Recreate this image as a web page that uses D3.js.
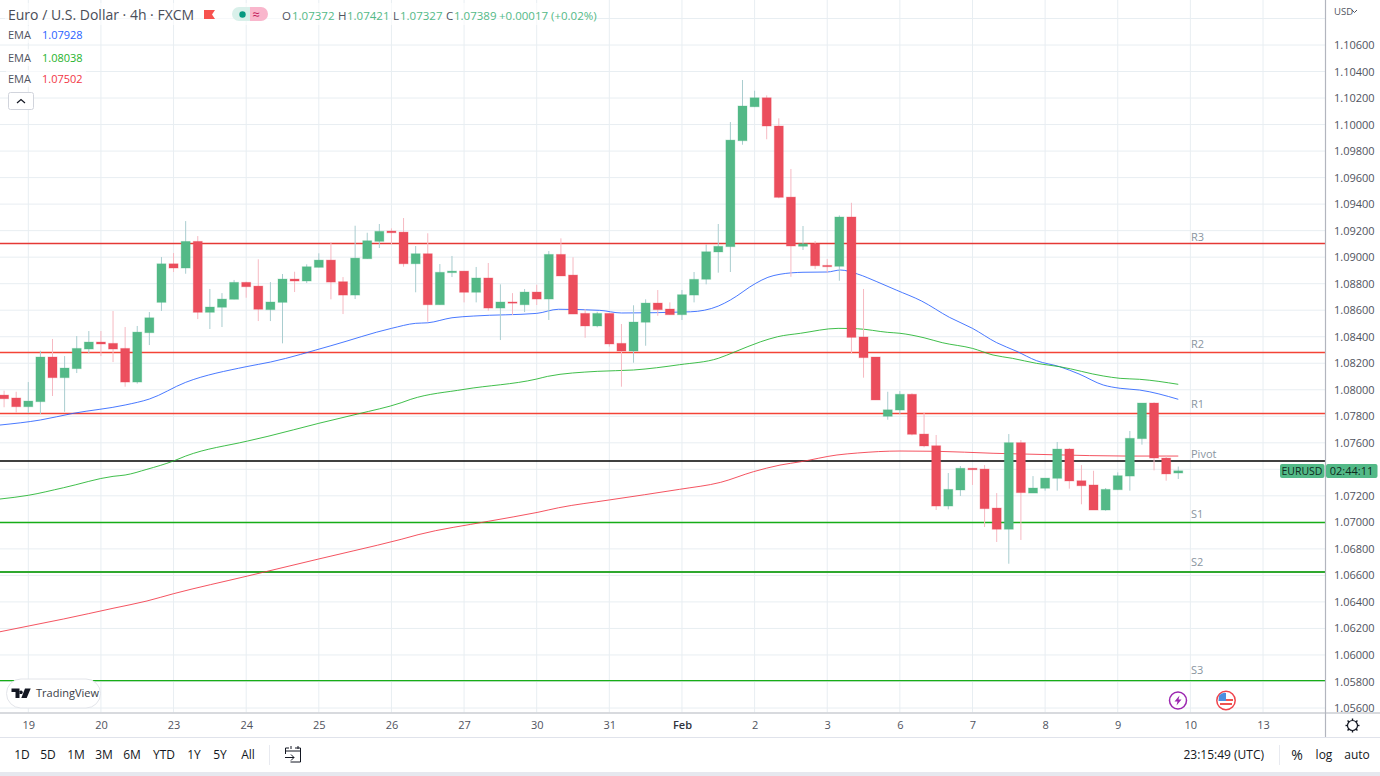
<!DOCTYPE html>
<html><head><meta charset="utf-8">
<script src="https://cdn.jsdelivr.net/npm/d3@7"></script>
<style>
html,body{margin:0;padding:0;background:#fff;overflow:hidden}
svg{display:block}
text{font-family:"Open Sans","Noto Sans",sans-serif}
</style></head><body>
<svg id="c" width="1380" height="776"></svg>
<script>
const firstBar = -2;
const opens = [1.07960,1.07938,1.07872,1.07910,1.08247,1.08091,1.08159,1.08307,1.08360,1.08350,1.08312,1.08058,1.08430,1.08659,1.08950,1.08918,1.09119,1.08584,1.08622,1.08682,1.08810,1.08782,1.08604,1.08659,1.08835,1.08820,1.08923,1.08978,1.08815,1.08714,1.08988,1.09119,1.09197,1.09189,1.08950,1.09026,1.08641,1.08883,1.08895,1.08735,1.08843,1.08616,1.08662,1.08641,1.08737,1.08684,1.09021,1.08865,1.08576,1.08481,1.08576,1.08350,1.08292,1.08509,1.08654,1.08609,1.08566,1.08714,1.08833,1.09039,1.09079,1.09878,1.10134,1.10202,1.09989,1.09453,1.09082,1.09101,1.08938,1.08931,1.09303,1.08398,1.08247,1.07800,1.07847,1.07966,1.07666,1.07578,1.07123,1.07244,1.07408,1.07402,1.07108,1.06948,1.07601,1.07221,1.07257,1.07332,1.07553,1.07314,1.07282,1.07093,1.07246,1.07349,1.07631,1.07900,1.07485,1.07372];
const highs = [1.07993,1.07985,1.08058,1.08294,1.08383,1.08254,1.08405,1.08443,1.08443,1.08594,1.08473,1.08481,1.08586,1.09001,1.09031,1.09272,1.09159,1.08760,1.08729,1.08828,1.08815,1.08984,1.08812,1.08873,1.08890,1.08946,1.09029,1.09112,1.08850,1.09237,1.09184,1.09250,1.09217,1.09295,1.09084,1.09180,1.08948,1.09009,1.08895,1.08926,1.08956,1.08795,1.08729,1.08760,1.08792,1.09046,1.09142,1.08999,1.08609,1.08588,1.08576,1.08496,1.08637,1.08682,1.08752,1.08659,1.08752,1.08888,1.09097,1.09250,1.10019,1.10336,1.10255,1.10220,1.10047,1.09665,1.09235,1.09122,1.08986,1.09315,1.09410,1.08760,1.08247,1.07985,1.07990,1.07973,1.07827,1.07659,1.07372,1.07425,1.07408,1.07432,1.07221,1.07666,1.07621,1.07349,1.07334,1.07606,1.07561,1.07432,1.07389,1.07259,1.07377,1.07689,1.07900,1.07905,1.07503,1.07421];
const lows = [1.07868,1.07825,1.07825,1.07817,1.07953,1.07834,1.08126,1.08275,1.08254,1.08209,1.08023,1.08046,1.08337,1.08594,1.08888,1.08875,1.08533,1.08458,1.08473,1.08682,1.08694,1.08518,1.08518,1.08350,1.08737,1.08805,1.08923,1.08682,1.08571,1.08684,1.08988,1.09069,1.09097,1.08928,1.08735,1.08513,1.08641,1.08850,1.08659,1.08659,1.08596,1.08375,1.08564,1.08586,1.08639,1.08526,1.08858,1.08571,1.08392,1.08471,1.08325,1.08023,1.08204,1.08332,1.08558,1.08566,1.08526,1.08659,1.08795,1.08883,1.08888,1.09848,1.10134,1.09889,1.09444,1.08852,1.09054,1.08910,1.08883,1.08822,1.08275,1.08091,1.07923,1.07774,1.07817,1.07656,1.07566,1.07093,1.07098,1.07199,1.07282,1.06965,1.06852,1.06688,1.06867,1.07221,1.07239,1.07239,1.07254,1.07136,1.07093,1.07088,1.07246,1.07239,1.07586,1.07392,1.07314,1.07327];
const closes = [1.07932,1.07872,1.07915,1.08247,1.08091,1.08164,1.08312,1.08360,1.08345,1.08307,1.08058,1.08435,1.08543,1.08950,1.08918,1.09119,1.08584,1.08624,1.08684,1.08810,1.08777,1.08607,1.08662,1.08835,1.08820,1.08928,1.08978,1.08812,1.08714,1.08993,1.09124,1.09195,1.09184,1.08950,1.09026,1.08641,1.08886,1.08895,1.08735,1.08843,1.08616,1.08662,1.08654,1.08737,1.08684,1.09021,1.08858,1.08571,1.08481,1.08576,1.08345,1.08292,1.08511,1.08654,1.08604,1.08566,1.08717,1.08833,1.09041,1.09082,1.09883,1.10140,1.10202,1.09989,1.09451,1.09084,1.09101,1.08935,1.08928,1.09303,1.08395,1.08242,1.07923,1.07849,1.07966,1.07664,1.07576,1.07123,1.07249,1.07408,1.07397,1.07103,1.06948,1.07601,1.07224,1.07259,1.07334,1.07553,1.07312,1.07276,1.07093,1.07249,1.07352,1.07634,1.07900,1.07485,1.07365,1.07389];

const blueBars = [-2.34,1,3.7,8,10,13,18,20,25,30,32,33,35,36.8,42,43.8,47.2,49,54.7,57,58,60.1,61.1,62.1,64,66,67.1,68.5,70.1,71.7,73.8,76.1,78,80,81.6,83.3,85.2,86.8,88.8,90.2,91.8,95];
const blueVals = [1.07734,1.07772,1.07822,1.07885,1.07930,1.08056,1.08174,1.08209,1.08332,1.08463,1.08501,1.08505,1.08543,1.08556,1.08576,1.08607,1.08599,1.08579,1.08588,1.08631,1.08677,1.08803,1.08848,1.08871,1.08886,1.08888,1.08903,1.08873,1.08815,1.08752,1.08669,1.08546,1.08463,1.08355,1.08292,1.08219,1.08174,1.08119,1.08036,1.08011,1.07998,1.07928];
const greenBars = [-2.34,0,2.9,7,8,9.8,12,13,18.1,19.8,24,27.2,30.8,31.6,36,42,42.9,47,50,53.8,57,58.4,60.5,61.9,63.8,66.9,68.5,71,72,74,75.5,78,79.7,81.3,83.3,85.2,88.8,90.2,91.8,95];
const greenVals = [1.07176,1.07204,1.07261,1.07347,1.07357,1.07400,1.07463,1.07500,1.07613,1.07649,1.07747,1.07817,1.07902,1.07928,1.08003,1.08081,1.08101,1.08139,1.08149,1.08189,1.08237,1.08287,1.08362,1.08400,1.08426,1.08463,1.08460,1.08433,1.08426,1.08392,1.08355,1.08312,1.08262,1.08237,1.08199,1.08174,1.08104,1.08086,1.08079,1.08041];
const redBars = [-2.34,0,2.9,7,9.8,12,18.1,24,26.9,30.8,32.2,38,42.1,43.8,48,53.8,57.2,59.9,62.1,63.8,66.8,68.5,72,75,79.7,84.6,90.7,95];
const redVals = [1.06175,1.06218,1.06271,1.06352,1.06407,1.06462,1.06595,1.06724,1.06786,1.06872,1.06907,1.07008,1.07076,1.07110,1.07169,1.07249,1.07302,1.07382,1.07432,1.07457,1.07508,1.07523,1.07538,1.07536,1.07521,1.07510,1.07500,1.07500];

const levelNames = ["R3","R2","R1","Pivot","S1","S2","S3"];
const levelVals = [1.09103,1.08281,1.07821,1.07463,1.06999,1.06626,1.05807];
const levelCols = ["#e53935","#f44336","#f44336","#000000","#17ad17","#2fa82f","#17ad17"];
const levelWidths = [1.3,1.5,1.5,1.5,1.4,2,1.3];

const dayBars = [0,6,12,18,24,30,36,42,48,54,60,66,72,78,84,90,96,102];
const dayLabels = ["19","20","23","24","25","26","27","30","31","Feb","2","3","6","7","8","9","10","13"];
const priceTicks = [1.108,1.106,1.104,1.102,1.100,1.098,1.096,1.094,1.092,1.090,1.088,1.086,1.084,1.082,1.080,1.078,1.076,1.074,1.072,1.070,1.068,1.066,1.064,1.062,1.060,1.058,1.056];
const hiddenLabels = [1.108,1.074];
const rangeButtons = ["1D","5D","1M","3M","6M","YTD","1Y","5Y","All"];
const rangeCenters = [22,48,76,104,132,164,194,220,248];
const emaLegendVals = ["1.07928","1.08038","1.07502"];
const emaCols = ["#2962ff","#1fb32c","#f23645"];
const ohlcLabels = ["O","H","L","C"];
const ohlcVals = ["1.07372","1.07421","1.07327","1.07389"];

const UP="#53b987", DOWN="#eb4d5c", GRID="#e8eef2", TXT="#50535e", AXIS="#b2b5be";
const PW=1325, PH=712.5;
const x=d3.scaleLinear().domain([0,102]).range([28.3,1263]);
const y=d3.scaleLinear().domain([1.106,1.056]).range([45,708]);
const svg=d3.select("#c");
svg.append("rect").attr("width",1380).attr("height",776).attr("fill","#fff");
const defs=svg.append("defs");
defs.append("clipPath").attr("id","plot").append("rect").attr("width",PW).attr("height",PH);
const plot=svg.append("g").attr("clip-path","url(#plot)");

// grid
plot.selectAll("line.h").data(priceTicks).join("line").attr("class","h")
 .attr("x1",0).attr("x2",PW).attr("y1",d=>y(d)).attr("y2",d=>y(d)).attr("stroke",GRID).attr("stroke-width",1);
plot.selectAll("line.v").data(dayBars).join("line").attr("class","v")
 .attr("y1",0).attr("y2",PH).attr("x1",d=>x(d)).attr("x2",d=>x(d)).attr("stroke",GRID).attr("stroke-width",1);

// pivot levels
levelVals.forEach((v,i)=>{
 plot.append("line").attr("x1",0).attr("x2",PW).attr("y1",y(v)).attr("y2",y(v))
  .attr("stroke",levelCols[i]).attr("stroke-width",levelWidths[i]);
});

// EMAs
const ln=d3.line().x(d=>x(d[0])).y(d=>y(d[1])).curve(d3.curveMonotoneX);
[[blueBars,blueVals],[greenBars,greenVals],[redBars,redVals]].forEach(([b,v],i)=>{
 plot.append("path").attr("d",ln(b.map((k,j)=>[k,v[j]]))).attr("fill","none")
  .attr("stroke",emaCols[i]).attr("stroke-width",1).attr("stroke-opacity",.85);
});

// candles
const bars=opens.map((o,i)=>({i:i+firstBar,o,h:highs[i],l:lows[i],c:closes[i]}));
const g=plot.append("g");
g.selectAll("line").data(bars).join("line")
 .attr("x1",d=>x(d.i)).attr("x2",d=>x(d.i)).attr("y1",d=>y(d.h)).attr("y2",d=>y(d.l))
 .attr("stroke",d=>d.c>=d.o?"#a9cdcf":"#f6b9c2").attr("stroke-width",1);
g.selectAll("rect").data(bars).join("rect")
 .attr("x",d=>x(d.i)-4.5).attr("width",9)
 .attr("y",d=>y(Math.max(d.o,d.c))).attr("height",d=>Math.max(1.2,Math.abs(y(d.o)-y(d.c))))
 .attr("fill",d=>d.c>=d.o?UP:DOWN)
 .attr("stroke",d=>d.c>=d.o?UP:DOWN).attr("stroke-opacity",.3).attr("stroke-width",1);

// level labels
const levelLift=[2.5,4,5,3,4,6,7];
levelVals.forEach((v,i)=>{
 svg.append("text").attr("x",1191).attr("y",y(v)-levelLift[i]).text(levelNames[i])
  .attr("font-size",11).attr("fill","#8a95a0");
});

// axes
const yAxis=d3.axisRight(y).tickValues(priceTicks.filter(t=>!hiddenLabels.includes(t)))
 .tickFormat(d3.format(".5f")).tickSize(0).tickPadding(9);
const ya=svg.append("g").attr("transform",`translate(${PW},0)`).call(yAxis);
const xAxis=d3.axisBottom(x).tickValues(dayBars).tickFormat((d,i)=>dayLabels[i]).tickSize(0).tickPadding(9);
const xa=svg.append("g").attr("transform",`translate(0,${PH})`).call(xAxis);
[ya,xa].forEach(a=>{a.select(".domain").remove();
 a.selectAll("text").attr("font-size",11).attr("fill",TXT).attr("font-family",'"Open Sans",sans-serif');});
xa.selectAll("text").filter((d,i)=>dayLabels[i]==="Feb").attr("font-weight",600).attr("fill","#30333c");
svg.append("line").attr("x1",PW+.5).attr("x2",PW+.5).attr("y1",0).attr("y2",738).attr("stroke",AXIS).attr("stroke-width",1.2);
svg.append("line").attr("x1",0).attr("x2",1380).attr("y1",PH+.5).attr("y2",PH+.5).attr("stroke",AXIS).attr("stroke-width",1.2);

// bottom toolbar
svg.append("line").attr("x1",0).attr("x2",1380).attr("y1",737.5).attr("y2",737.5).attr("stroke","#e0e3eb");
svg.append("rect").attr("x",0).attr("y",772).attr("width",1380).attr("height",4).attr("fill","#e6e8ef");
const T=(s,xx,yy,o={})=>svg.append("text").attr("x",xx).attr("y",yy).text(s)
 .attr("font-size",o.s||12).attr("fill",o.f||"#131722").attr("text-anchor",o.a||"start").attr("font-weight",o.w||400);
rangeButtons.forEach((b,i)=>T(b,rangeCenters[i],759,{a:"middle"}));
svg.append("line").attr("x1",269.5).attr("x2",269.5).attr("y1",745).attr("y2",765).attr("stroke","#e8eaf0");
svg.append("path").attr("d","M289 748h-3.5v3M285.500 751v3M291 746v3M298 746v3M295 748h5.500v14h-10M285.500 751h15M285 757.500h9M291 754.500l3 3-3 3")
 .attr("fill","none").attr("stroke","#131722").attr("stroke-width",1);
T("23:15:49 (UTC)",1264,759,{a:"end"});
svg.append("line").attr("x1",1279.5).attr("x2",1279.5).attr("y1",745).attr("y2",765).attr("stroke","#e8eaf0");
T("%",1297,760,{a:"middle",s:14});
T("log",1324,759,{a:"middle"});
T("auto",1357,759,{a:"middle"});
// gear
const gear=svg.append("g").attr("transform","translate(1352.500,725.500)");
gear.append("circle").attr("r",5).attr("fill","none").attr("stroke","#131722").attr("stroke-width",1.2);
d3.range(8).forEach(k=>gear.append("line").attr("x1",0).attr("x2",0).attr("y1",-5).attr("y2",-7)
 .attr("stroke","#131722").attr("stroke-width",1.4).attr("transform",`rotate(${k*45})`));

// price tag
svg.append("rect").attr("x",1280).attr("y",464).attr("width",44.500).attr("height",14).attr("rx",2).attr("fill",UP);
svg.append("rect").attr("x",1326).attr("y",464).attr("width",51.500).attr("height",14).attr("rx",2).attr("fill",UP);
T("EURUSD",1302,475,{a:"middle",s:10.500,f:"#0f2a20"});
T("02:44:11",1351.500,475,{a:"middle",s:11,f:"#0f2a20"});
T("USD",1334,15,{s:9.500,f:TXT});
svg.append("path").attr("d","M1352 10l2.500 2.500 2.500-2.500").attr("fill","none").attr("stroke",TXT);

// header
svg.append("rect").attr("x",5).attr("y",3).attr("width",590).attr("height",22).attr("fill","#fff").attr("fill-opacity",.6);
T("Euro / U.S. Dollar · 4h · FXCM",8,20,{s:14,f:"#4a4d57"});
svg.append("path").attr("d","M204 10h11l-3 4.500 3 4.500h-11z").attr("fill","#f7524f");
svg.append("path").attr("d","M239 7h11v14h-11a7 7 0 0 1 0-14z").attr("fill","#d9f0ea");
svg.append("path").attr("d","M250 7h11a7 7 0 0 1 0 14h-11z").attr("fill","#f9b6cc");
svg.append("circle").attr("cx",242.500).attr("cy",14.500).attr("r",3.200).attr("fill","#089981");
T("≈",256,18.500,{a:"middle",s:13,f:"#c2185b"});
const ohlcX=[282,338,393,446];
const ohlcValX=[292,347,400,454];
ohlcLabels.forEach((l,i)=>{
 T(l,ohlcX[i],20,{s:11.500,f:TXT});
 T(ohlcVals[i],ohlcValX[i],20,{s:11.500,f:UP});
});
T("+0.00017 (+0.02%)",499,20,{s:11.500,f:UP});
[35,58,79].forEach((yy,i)=>{
 svg.append("rect").attr("x",6).attr("y",yy-9).attr("width",80).attr("height",17).attr("fill","#fff").attr("fill-opacity",.6);
 T("EMA",8,yy+4,{s:11,f:TXT});
 T(emaLegendVals[i],42,yy+4,{s:11,f:emaCols[i]});
});
svg.append("rect").attr("x",8.500).attr("y",92.500).attr("width",25).attr("height",17).attr("rx",2).attr("fill","#fff").attr("stroke","#d1d4dc");
svg.append("path").attr("d","M17 103l4-3.500 4 3.500").attr("fill","none").attr("stroke","#131722").attr("stroke-width",1.2);

// watermark
svg.append("rect").attr("x",6.500).attr("y",679).attr("width",94).attr("height",29).attr("rx",14.500).attr("fill","#fff").attr("stroke","#e3e5ea");
svg.append("path").attr("d","M11.500 688.500h8v9.500h-4v-6h-4zM21 690.500a1.800 1.800 0 1 0 .01 0zM25 688.500h5.700l-4 9.500h-5.400z").attr("fill","#131722");
T("TradingView",36,697,{s:11,f:"#3a3d46"});

// event icons
const ev=svg.append("g").attr("transform","translate(1178,700.500)");
ev.append("circle").attr("r",8.500).attr("fill","#fff").attr("stroke","#9c27b0").attr("stroke-width",1.500);
ev.append("path").attr("d","M1.500-5L-3.500 1h3L-1.500 5 3.500-1h-3z").attr("fill","#9c27b0");
const fl=svg.append("g").attr("transform","translate(1226,700.500)");
fl.append("circle").attr("r",9.200).attr("fill","#fff").attr("stroke","#f0444c").attr("stroke-width",1.500);
fl.append("rect").attr("x",-7).attr("y",-1.500).attr("width",14).attr("height",2).attr("fill","#ef5350");
fl.append("rect").attr("x",-6).attr("y",2.500).attr("width",12).attr("height",2).attr("fill","#ef5350");
fl.append("path").attr("d","M-7-5a7.500 7.500 0 0 1 7-2.500V0.500H-7.500z").attr("fill","#4c8fe0");
</script>
</body></html>
